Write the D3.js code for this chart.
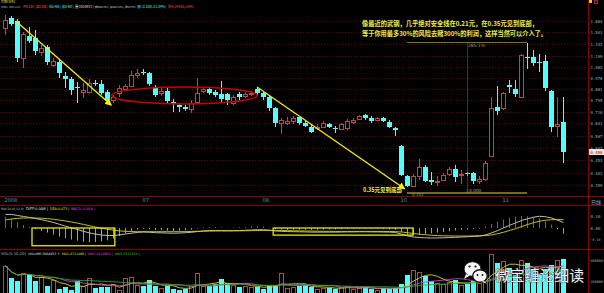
<!DOCTYPE html>
<html><head><meta charset="utf-8">
<script src="https://cdn.jsdelivr.net/npm/d3@7"></script>
<style>html,body{margin:0;padding:0;background:#000;overflow:hidden}svg{display:block}</style>
</head><body><svg id="c" width="604" height="293"></svg>
<script>
// ---------- data ----------
const opens  = [1.558,1.711,1.664,1.177,1.446,1.419,1.245,1.305,1.102,1.134,0.995,0.967,0.897,0.856,0.856,0.932,0.923,0.856,0.795,0.848,0.881,0.906,1.004,1.033,1.023,0.897,0.848,0.864,0.780,0.758,0.744,0.730,0.780,0.864,0.881,0.856,0.840,0.840,0.773,0.840,0.825,0.840,0.881,0.848,0.817,0.737,0.641,0.641,0.653,0.678,0.641,0.617,0.611,0.617,0.635,0.611,0.606,0.611,0.647,0.665,0.691,0.671,0.659,0.671,0.647,0.611,0.517,0.390,0.355,0.390,0.424,0.376,0.371,0.376,0.398,0.417,0.396,0.401,0.401,0.372,0.379,0.471,0.744,0.737,0.914,0.881,0.817,1.188,1.188,1.134,1.144,0.864,0.623,0.647];
const highs  = [1.760,1.744,1.690,1.501,1.573,1.530,1.329,1.329,1.177,1.155,1.033,0.985,0.940,0.932,0.967,0.958,0.958,0.873,0.833,0.914,0.923,1.042,1.062,1.062,1.033,0.914,0.889,0.889,0.802,0.773,0.758,0.795,0.976,0.897,0.897,0.873,0.949,0.848,0.833,0.856,0.856,0.864,0.897,0.864,0.833,0.744,0.671,0.678,0.684,0.684,0.653,0.629,0.635,0.653,0.641,0.623,0.641,0.665,0.671,0.691,0.697,0.684,0.678,0.678,0.659,0.617,0.522,0.394,0.398,0.458,0.432,0.405,0.390,0.401,0.424,0.432,0.413,0.405,0.405,0.390,0.449,0.817,0.906,0.856,0.958,0.958,1.222,1.355,1.268,1.222,1.211,0.873,0.817,0.817];
const lows   = [1.460,1.588,1.134,1.072,1.355,1.211,1.199,1.102,1.082,0.976,0.889,0.833,0.773,0.810,0.848,0.906,0.833,0.780,0.773,0.817,0.873,0.897,0.976,1.004,0.906,0.817,0.825,0.773,0.710,0.710,0.717,0.704,0.773,0.848,0.833,0.817,0.773,0.758,0.758,0.795,0.810,0.825,0.833,0.795,0.717,0.617,0.578,0.629,0.635,0.629,0.617,0.584,0.600,0.611,0.611,0.584,0.600,0.600,0.635,0.659,0.659,0.641,0.653,0.647,0.611,0.567,0.390,0.352,0.352,0.376,0.369,0.359,0.355,0.372,0.390,0.369,0.362,0.390,0.362,0.362,0.372,0.466,0.691,0.724,0.848,0.817,0.810,1.062,1.092,1.033,0.864,0.589,0.562,0.441];
const closes = [1.680,1.618,1.177,1.473,1.380,1.257,1.293,1.134,1.144,1.023,0.967,0.873,0.889,0.873,0.932,0.923,0.848,0.795,0.817,0.889,0.906,1.004,1.023,1.023,0.923,0.833,0.864,0.787,0.765,0.744,0.730,0.773,0.848,0.881,0.848,0.833,0.802,0.795,0.817,0.817,0.840,0.848,0.848,0.817,0.737,0.641,0.659,0.653,0.671,0.641,0.623,0.589,0.617,0.641,0.617,0.606,0.635,0.653,0.659,0.684,0.671,0.653,0.671,0.653,0.617,0.600,0.394,0.355,0.390,0.424,0.372,0.369,0.374,0.394,0.417,0.387,0.398,0.398,0.372,0.379,0.441,0.737,0.717,0.848,0.897,0.840,1.210,1.177,1.123,1.123,0.889,0.617,0.635,0.488];
const volumes = [343000,229000,200000,276000,267000,200000,238000,152000,210000,124000,143000,114000,200000,152000,229000,133000,143000,143000,171000,114000,229000,238000,162000,152000,210000,152000,133000,152000,124000,114000,124000,152000,276000,152000,152000,171000,219000,181000,162000,143000,152000,143000,143000,124000,152000,162000,276000,133000,143000,152000,162000,143000,124000,133000,133000,124000,143000,152000,124000,133000,143000,124000,114000,133000,124000,133000,171000,257000,305000,286000,248000,200000,181000,171000,190000,210000,162000,171000,200000,181000,257000,457000,371000,390000,324000,257000,400000,371000,305000,267000,314000,352000,400000,410000];
const difs = [0.118,0.118,0.109,0.100,0.092,0.082,0.072,0.061,0.048,0.032,0.016,0.002,-0.013,-0.029,-0.043,-0.053,-0.061,-0.065,-0.065,-0.060,-0.052,-0.045,-0.038,-0.035,-0.037,-0.041,-0.042,-0.044,-0.045,-0.044,-0.041,-0.037,-0.031,-0.025,-0.022,-0.022,-0.023,-0.024,-0.023,-0.022,-0.020,-0.017,-0.015,-0.015,-0.019,-0.026,-0.029,-0.031,-0.032,-0.033,-0.034,-0.036,-0.036,-0.036,-0.036,-0.036,-0.035,-0.034,-0.034,-0.033,-0.033,-0.034,-0.034,-0.035,-0.036,-0.039,-0.053,-0.069,-0.078,-0.083,-0.085,-0.087,-0.086,-0.085,-0.083,-0.081,-0.078,-0.076,-0.073,-0.070,-0.060,-0.043,-0.023,0.001,0.023,0.044,0.065,0.080,0.094,0.102,0.098,0.087,0.068,0.048];
const deas = [0.070,0.078,0.084,0.087,0.088,0.087,0.085,0.081,0.076,0.069,0.061,0.052,0.042,0.031,0.020,0.008,-0.002,-0.011,-0.019,-0.025,-0.029,-0.031,-0.032,-0.032,-0.032,-0.032,-0.032,-0.032,-0.032,-0.032,-0.031,-0.030,-0.029,-0.028,-0.027,-0.026,-0.025,-0.025,-0.025,-0.025,-0.024,-0.023,-0.022,-0.021,-0.021,-0.021,-0.022,-0.023,-0.024,-0.025,-0.026,-0.027,-0.028,-0.029,-0.029,-0.030,-0.030,-0.030,-0.030,-0.030,-0.030,-0.030,-0.030,-0.030,-0.030,-0.031,-0.035,-0.041,-0.048,-0.054,-0.059,-0.063,-0.066,-0.068,-0.069,-0.070,-0.070,-0.070,-0.069,-0.068,-0.066,-0.060,-0.050,-0.037,-0.022,-0.006,0.012,0.030,0.046,0.059,0.068,0.072,0.073,0.073];
const macds = [0.095,0.08,0.05,0.025,0.008,-0.01,-0.026,-0.04,-0.057,-0.075,-0.09,-0.1,-0.11,-0.12,-0.125,-0.122,-0.117,-0.108,-0.092,-0.07,-0.045,-0.028,-0.012,-0.006,-0.01,-0.018,-0.02,-0.024,-0.026,-0.024,-0.02,-0.014,-0.004,0.006,0.01,0.008,0.005,0.002,0.004,0.006,0.008,0.012,0.015,0.012,0.005,-0.01,-0.014,-0.016,-0.016,-0.015,-0.016,-0.018,-0.016,-0.014,-0.013,-0.012,-0.01,-0.008,-0.007,-0.005,-0.006,-0.007,-0.008,-0.009,-0.012,-0.016,-0.035,-0.055,-0.06,-0.058,-0.052,-0.047,-0.04,-0.034,-0.028,-0.022,-0.016,-0.012,-0.008,-0.004,0.012,0.035,0.055,0.075,0.09,0.1,0.105,0.1,0.095,0.085,0.06,0.03,-0.01,-0.05];

const priceTicks = [1.664,1.501,1.342,1.199,1.082,0.976,0.881,0.795,0.710,0.641,0.567,0.507,0.453,0.401,0.359];
const macdTicks = [0.10,0.00,-0.10];
const volTicks = [400000,200000];
const dateTickIdx = [0,23,43,66,83];
const dateTickLabels = ["2008","07","08","10","11"];

// annotations, in data terms (candle index, price)
const trend1 = [{i:1.8,p:1.664},{i:17.7,p:0.758}];
const trend2 = [{i:42,p:0.897},{i:66.6,p:0.346}];
const ellipseBox = {i0:17.8,i1:42,pLow:0.7653,pHigh:0.8973};
const measure = {i0:67,i1:87,iMid:77,low:0.352,high:1.355,pct:"285.1%"};
const noteLines = ["像最近的武钢，几乎绝对安全线在0.21元，在0.35元见到底部，","等于你用最多30%的风险去赌300%的利润，这样当然可以介入了。"];
const bottomNote = "0.35元见到底部";

// ---------- drawing ----------
const W=604,H=293;
const RED='#d23c3c', CYAN='#54fcfc', FRAME='#8a0000', LBL='#8fb4bc';
const MONO='"DejaVu Sans Mono",monospace', SANS='"DejaVu Sans",sans-serif';
const CJK='"Noto Sans CJK SC","Noto Sans",sans-serif';
const svg=d3.select('#c');
svg.append('rect').attr('width',W).attr('height',H).attr('fill','#000');
const n=opens.length;
const x=d3.scaleLinear().domain([0,93]).range([5,563]);
const y=d3.scaleLog().domain([0.352,1.355]).range([187,43]);
const vy=d3.scaleLinear().domain([0,400000]).range([302,260]);
const my=d3.scaleLinear().domain([-0.1,0.1]).range([239.5,216.5]);
const cx=i=>Math.round(x(i));

// scale a text's font so that its natural width equals w
function fit(t,w){
  const L=t.node().getComputedTextLength();
  if(L>0){ const fs=parseFloat(t.attr('font-size')); t.attr('font-size',(fs*w/L).toFixed(2)); }
  return t;
}

const defs=svg.append('defs');
defs.append('marker').attr('id','arr').attr('markerUnits','userSpaceOnUse')
 .attr('markerWidth',7).attr('markerHeight',7).attr('refX',6).attr('refY',3.5).attr('orient','auto')
 .append('path').attr('d','M0,0 L7,3.5 L0,7 z').attr('fill','#f2f200');

// gridlines main
svg.append('g').selectAll('line').data(priceTicks).join('line')
 .attr('x1',0).attr('x2',588)
 .attr('y1',d=>Math.round(y(d))+0.5).attr('y2',d=>Math.round(y(d))+0.5)
 .attr('stroke','#6a0000').attr('stroke-dasharray','1,2');

// frame lines
const frame=svg.append('g').attr('stroke',FRAME).attr('stroke-width',1);
frame.append('line').attr('x1',588.5).attr('x2',588.5).attr('y1',0).attr('y2',H);
[196.5,205.5,249.5].forEach(v=>frame.append('line').attr('x1',0).attr('x2',W).attr('y1',v).attr('y2',v));

// right axis helper
function rightAxis(scale,ticks,fmt,len,fs){
  const g=svg.append('g').attr('transform','translate(589,0)')
    .call(d3.axisRight(scale).tickValues(ticks).tickFormat(fmt).tickSize(1));
  g.select('.domain').remove();
  g.selectAll('line').attr('stroke',FRAME);
  g.selectAll('text').attr('fill',LBL).attr('font-size',fs).attr('font-family',MONO).attr('x',1.5)
   .each(function(){ fit(d3.select(this),len); });
  return g;
}
rightAxis(y,priceTicks,d3.format('.3f'),12,4.3);

// date axis
const xa=svg.append('g').attr('transform','translate(0,196)')
 .call(d3.axisBottom(x).tickValues(dateTickIdx).tickFormat((d,i)=>dateTickLabels[i]).tickSize(2));
xa.select('.domain').remove();
xa.selectAll('line').attr('stroke',FRAME);
xa.selectAll('text').attr('fill','#4ea2ac').attr('font-size',5).attr('text-anchor','start')
 .attr('x',-1).attr('y',2.5).attr('font-family',SANS);
svg.append('text').attr('x',591).attr('y',203.5).text('日线').attr('fill',LBL).attr('font-size',5).attr('font-family',CJK);

// candles
const cg=svg.append('g');
for(let i=0;i<n;i++){
  const o=opens[i],c=closes[i],h=highs[i],l=lows[i];
  const up=c>=o, X=cx(i);
  const top=Math.round(y(Math.max(o,c))), bot=Math.round(y(Math.min(o,c)));
  const yh=Math.round(y(h)), yl=Math.round(y(l));
  if(up){
    const bh=Math.max(bot-top,1);
    if(yh<top) cg.append('line').attr('x1',X+0.5).attr('x2',X+0.5).attr('y1',yh).attr('y2',top).attr('stroke',RED);
    if(yl>top+bh) cg.append('line').attr('x1',X+0.5).attr('x2',X+0.5).attr('y1',top+bh).attr('y2',yl).attr('stroke',RED);
    cg.append('rect').attr('x',X-1.5).attr('y',top+0.5).attr('width',4).attr('height',bh)
      .attr('fill','#000').attr('stroke',RED);
  } else {
    cg.append('line').attr('x1',X+0.5).attr('x2',X+0.5).attr('y1',yh).attr('y2',yl).attr('stroke',CYAN);
    cg.append('rect').attr('x',X-2).attr('y',top).attr('width',5).attr('height',Math.max(bot-top,1)).attr('fill',CYAN);
  }
}

// annotations on main chart
svg.append('line').attr('x1',x(trend1[0].i)).attr('y1',y(trend1[0].p)).attr('x2',x(trend1[1].i)).attr('y2',y(trend1[1].p))
 .attr('stroke','#f2f200').attr('stroke-width',1.3).attr('marker-end','url(#arr)');
svg.append('line').attr('x1',x(trend2[0].i)).attr('y1',y(trend2[0].p)).attr('x2',x(trend2[1].i)).attr('y2',y(trend2[1].p))
 .attr('stroke','#f2f200').attr('stroke-width',1.3).attr('marker-end','url(#arr)');
svg.append('ellipse')
 .attr('cx',(x(ellipseBox.i0)+x(ellipseBox.i1))/2).attr('cy',(y(ellipseBox.pLow)+y(ellipseBox.pHigh))/2)
 .attr('rx',(x(ellipseBox.i1)-x(ellipseBox.i0))/2).attr('ry',(y(ellipseBox.pLow)-y(ellipseBox.pHigh))/2)
 .attr('fill','none').attr('stroke','#c40000').attr('stroke-width',1.6);

// measuring tool
const mg=svg.append('g');
const mTop=Math.round(y(measure.high))-0.5, mBot=Math.round(y(measure.low))+6;
mg.append('line').attr('x1',x(measure.i0)).attr('x2',x(measure.i1)).attr('y1',mTop).attr('y2',mTop).attr('stroke','#77772a');
mg.append('line').attr('x1',x(measure.i0)).attr('x2',x(measure.i1)).attr('y1',mBot).attr('y2',mBot).attr('stroke','#6e6e1c').attr('stroke-width',2);
mg.append('line').attr('x1',cx(measure.iMid)+0.5).attr('x2',cx(measure.iMid)+0.5).attr('y1',mTop).attr('y2',mBot)
 .attr('stroke','#77772a').attr('stroke-dasharray','1,1');
mg.append('text').attr('x',cx(measure.iMid)+1).attr('y',mTop+4.5).text(measure.pct).attr('fill','#b0a070').attr('font-size',4.5).attr('font-family',SANS);
mg.append('text').attr('x',cx(measure.iMid)-1).attr('y',mBot-1).text('△0.000').attr('fill','#b0a070').attr('font-size',4.2).attr('font-family',SANS);
mg.append('text').attr('x',x(measure.i0)+5).attr('y',mBot+3).text(d3.format('.3f')(measure.low)).attr('fill','#9a9a9a').attr('font-size',4.2).attr('font-family',SANS);

// text notes
const tn=svg.append('g').attr('font-family',CJK).attr('font-weight','bold').attr('fill','#eeee44');
tn.append('text').attr('x',362).attr('y',25.5).attr('font-size',6.6).attr('textLength',176).attr('lengthAdjust','spacingAndGlyphs').text(noteLines[0]);
tn.append('text').attr('x',362).attr('y',36).attr('font-size',6.6).attr('textLength',185).attr('lengthAdjust','spacingAndGlyphs').text(noteLines[1]);
tn.append('text').attr('x',363).attr('y',191.5).attr('font-size',6.2).attr('textLength',39).attr('lengthAdjust','spacingAndGlyphs').text(bottomNote);

// current price marker
const last=closes[n-1];
svg.append('rect').attr('x',589).attr('y',Math.round(y(last))-3).attr('width',15).attr('height',6).attr('fill','#e8e8e8');
fit(svg.append('text').attr('x',590.5).attr('y',Math.round(y(last))+1.7).text(d3.format('.3f')(last)).attr('fill','#d00000')
 .attr('font-size',4.5).attr('font-family',MONO),12);

// header
const hdr=svg.append('g').attr('font-family',CJK);
fit(hdr.append('text').attr('x',1).attr('y',3).text('武钢CWB1').attr('fill','#d8d860').attr('font-size',3.4),14);
const hparts=[
 {t:'580001',x:1,w:6.5,c:'#c8c8c8'},{t:'2008/11/18',x:9,w:11,c:'#c8c8c8'},
 {t:'开0.535 |',x:23,w:12,c:'#ff5a5a'},{t:'高0.560 |',x:36,w:12,c:'#ff5a5a'},
 {t:'低0.460 |',x:49,w:12,c:CYAN},{t:'收0.467 |',x:62,w:12,c:CYAN},
 {t:'量3004953 |',x:75,w:19,c:'#d8d8d8'},{t:'额9881781 |',x:95,w:14,c:'#d8d8d8'},
 {t:'换284.51% |',x:110,w:14,c:'#d8d8d8'},{t:'振63.57% |',x:125,w:11,c:'#d8d8d8'},
 {t:'涨(-0.136)-21.34% |',x:137,w:29.5,c:CYAN},{t:'均价(34.658)1.04%',x:168,w:25,c:'#ff5a5a'}];
hparts.forEach(d=>{
  fit(hdr.append('text').attr('x',d.x).attr('y',8.4).attr('font-size',3.6).text(d.t).attr('fill',d.c),d.w);
});
svg.append('rect').attr('x',589).attr('y',0).attr('width',3).attr('height',3).attr('fill','#d8d820');
svg.append('rect').attr('x',594.5).attr('y',0.5).attr('width',3).attr('height',3).attr('fill','none').attr('stroke','#b02020');

// MACD panel
const mp=svg.append('g');
for(let i=0;i<n;i++){
  const v=macds[i];
  mp.append('line').attr('x1',cx(i)+0.5).attr('x2',cx(i)+0.5).attr('y1',my(0)).attr('y2',my(v)).attr('stroke',v>=0?RED:'#3cc8c8');
}
mp.append('path').datum(difs).attr('d',d3.line().x((d,i)=>x(i)+0.5).y(d=>my(d))).attr('fill','none').attr('stroke','#cfcfcf').attr('stroke-width',0.9);
mp.append('path').datum(deas).attr('d',d3.line().x((d,i)=>x(i)+0.5).y(d=>my(d))).attr('fill','none').attr('stroke','#d6d600').attr('stroke-width',0.9);
mp.append('rect').attr('x',x(4.5)).attr('y',my(0)).attr('width',x(18.3)-x(4.5)).attr('height',my(-0.15)-my(0)+0.5).attr('fill','none').attr('stroke','#e8e800').attr('stroke-width',1.3);
mp.append('rect').attr('x',x(44.7)).attr('y',my(0)).attr('width',x(68)-x(44.7)).attr('height',my(-0.062)-my(0)).attr('fill','none').attr('stroke','#e8e800').attr('stroke-width',1.3);
rightAxis(my,macdTicks,d3.format('.2f'),10,4.3);
const mt=svg.append('g').attr('font-family',SANS);
[{t:'MACD(26,12,9)',x:1,w:23,c:'#b8b8b8'},{t:'DIFF:0.048 |',x:26,w:22,c:'#e0e0e0'},{t:'DEA:0.073 |',x:50,w:19.5,c:'#e0e000'},{t:'MACD:-0.054 |',x:71,w:24,c:'#e040e0'}]
 .forEach(d=>fit(mt.append('text').attr('x',d.x).attr('y',210).attr('font-size',4.3).text(d.t).attr('fill',d.c),d.w));

// volume panel
const vp=svg.append('g');
for(let i=0;i<n;i++){
  const up=closes[i]>=opens[i], X=cx(i), t=Math.round(vy(volumes[i]));
  if(up) vp.append('rect').attr('x',X-1.5).attr('y',t+0.5).attr('width',4).attr('height',300-t).attr('fill','none').attr('stroke',RED);
  else vp.append('rect').attr('x',X-2).attr('y',t).attr('width',5).attr('height',300-t).attr('fill',CYAN);
}
const maLine=(k,col)=>{
  const vals=volumes.map((v,i)=>d3.mean(volumes.slice(Math.max(0,i-k+1),i+1)));
  vp.append('path').datum(vals).attr('d',d3.line().x((d,i)=>x(i)+0.5).y(d=>vy(d))).attr('fill','none').attr('stroke',col).attr('stroke-width',0.9);
};
maLine(5,'#d8d820'); maLine(10,'#d040d0'); maLine(20,'#20b020');
rightAxis(vy,volTicks,d3.format('d'),12.5,4.2);
const vt=svg.append('g').attr('font-family',SANS);
[{t:'VOL(5,10,20)',x:1,w:25,c:'#b8b8b8'},{t:'VOLUME:3004953 ↑',x:28,w:32,c:'#e0e0e0'},{t:'MA1:2711488 |',x:62,w:24,c:'#e0e000'},{t:'MA2:2420866 |',x:88,w:25,c:'#e040e0'},{t:'MA3:2331260 |',x:115,w:25,c:'#30d030'}]
 .forEach(d=>fit(vt.append('text').attr('x',d.x).attr('y',255).attr('font-size',4.3).text(d.t).attr('fill',d.c),d.w));

// watermark
const wm=svg.append('g');
wm.append('ellipse').attr('cx',472.5).attr('cy',269).attr('rx',8.5).attr('ry',7.3).attr('fill','#f4f4f4').attr('stroke','#111').attr('stroke-width',1);
wm.append('path').attr('d','M466,274 L464,279 L470,275.5 z').attr('fill','#f4f4f4');
wm.append('circle').attr('cx',469.5).attr('cy',266.5).attr('r',1.1).attr('fill','#111');
wm.append('circle').attr('cx',475.5).attr('cy',266.5).attr('r',1.1).attr('fill','#111');
wm.append('ellipse').attr('cx',480).attr('cy',276).attr('rx',7.3).attr('ry',6.3).attr('fill','#f4f4f4').attr('stroke','#111').attr('stroke-width',1.4);
wm.append('path').attr('d','M484,281 L487,284 L482,281.5 z').attr('fill','#f4f4f4');
wm.append('circle').attr('cx',477.5).attr('cy',275).attr('r',0.9).attr('fill','#111');
wm.append('circle').attr('cx',482.5).attr('cy',275).attr('r',0.9).attr('fill','#111');
wm.append('text').attr('x',495).attr('y',280.5).text('微宝缠论细读').attr('font-family',CJK).attr('font-size',15)
 .attr('textLength',89).attr('lengthAdjust','spacingAndGlyphs')
 .attr('fill','#f4f4f4').attr('stroke','#222').attr('stroke-width',0.6).attr('paint-order','stroke');
</script></body></html>
